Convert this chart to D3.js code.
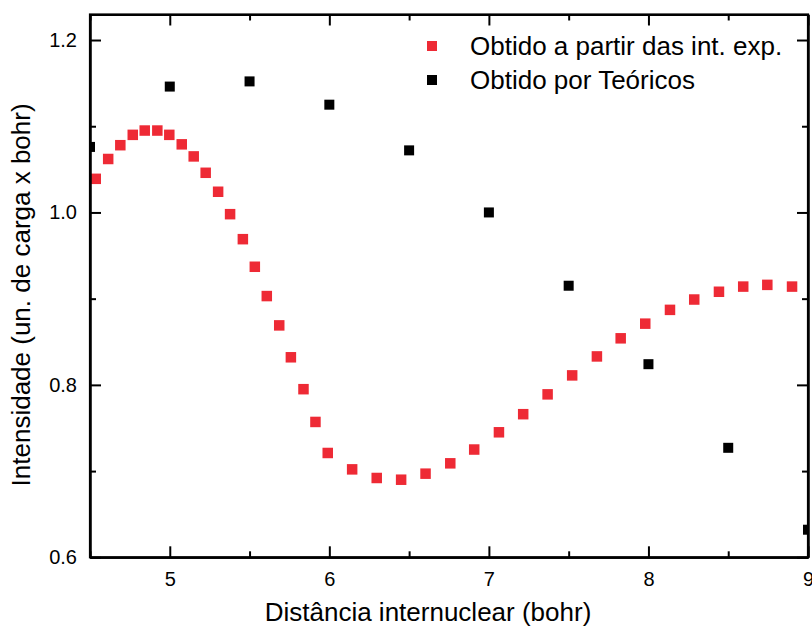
<!DOCTYPE html>
<html>
<head>
<meta charset="utf-8">
<script src="https://cdn.jsdelivr.net/npm/d3@7"></script>
<style>
  body { margin: 0; background: #fff; }
  svg { display: block; font-family: "Liberation Sans", Arial, sans-serif; }
</style>
</head>
<body>
<script>
// data
let expX = [4.536, 4.614, 4.69, 4.768, 4.843, 4.922, 4.997, 5.075, 5.15, 5.225,
            5.303, 5.378, 5.458, 5.533, 5.608, 5.686, 5.759, 5.838, 5.913, 5.99,
            6.143, 6.297, 6.45, 6.603, 6.758, 6.908, 7.063, 7.215, 7.368, 7.522,
            7.677, 7.826, 7.98, 8.135, 8.287, 8.442, 8.594, 8.745, 8.9];
let expY = [1.039, 1.062, 1.078, 1.090, 1.095, 1.095, 1.090, 1.079, 1.065, 1.046,
            1.024, 0.998, 0.969, 0.937, 0.903, 0.869, 0.832, 0.795, 0.757, 0.721,
            0.702, 0.692, 0.690, 0.697, 0.709, 0.725, 0.745, 0.766, 0.789, 0.811,
            0.833, 0.854, 0.871, 0.887, 0.899, 0.908, 0.914, 0.916, 0.914];
let teoX = [4.5, 5, 5.5, 6, 6.5, 7, 7.5, 8, 8.5, 9];
let teoY = [1.076, 1.146, 1.152, 1.125, 1.072, 1.0, 0.915, 0.824, 0.727, 0.632];

let xTicks = [5, 6, 7, 8, 9];
let yTicks = [0.6, 0.8, 1.0, 1.2];
let seriesNames = ["Obtido a partir das int. exp.", "Obtido por Teóricos"];
let seriesColors = ["#ee2a35", "#000000"];

let margin = null, width = null, height = null;
let svg = null;
let x, y = null;

setupCanvasSize();
appendSvg("body");
setupScales();
appendPoints();
appendAxes();
appendTitles();
appendLegend();

function setupCanvasSize() {
  margin = {top: 14.5, left: 90, bottom: 68.7, right: 4};
  width = 812 - margin.left - margin.right;
  height = 626 - margin.top - margin.bottom;
}

function appendSvg(domElement) {
  let root = d3.select(domElement).append("svg")
      .attr("width", 812)
      .attr("height", 626);
  root.append("defs").append("clipPath").attr("id", "plot-clip")
      .append("rect").attr("width", width).attr("height", height);
  svg = root.append("g")
      .attr("transform", `translate(${margin.left}, ${margin.top})`);
}

function setupScales() {
  x = d3.scaleLinear().domain([4.5, 9]).range([0, width]);
  y = d3.scaleLinear().domain([0.6, 1.2296]).range([height, 0]);
}

function appendPoints() {
  let g = svg.append("g").attr("clip-path", "url(#plot-clip)");
  let s = 10.5;
  g.selectAll("rect.exp")
    .data(d3.zip(expX, expY))
    .join("rect")
    .attr("class", "exp")
    .attr("x", d => x(d[0]) - s / 2)
    .attr("y", d => y(d[1]) - s / 2)
    .attr("width", s).attr("height", s)
    .attr("fill", seriesColors[0]);
  g.selectAll("rect.teo")
    .data(d3.zip(teoX, teoY))
    .join("rect")
    .attr("class", "teo")
    .attr("x", d => x(d[0]) - 5)
    .attr("y", d => y(d[1]) - 5)
    .attr("width", 10).attr("height", 10)
    .attr("fill", seriesColors[1]);
}

function styleAxis(g) {
  g.selectAll("path, line").attr("stroke", "#000").attr("stroke-width", 2);
  g.selectAll("text").attr("fill", "#000").style("font-size", "20px")
    .style("font-family", "'Liberation Sans', Arial, sans-serif");
}

function appendAxes() {
  let xMinor = d3.range(4.5, 9.01, 0.5).filter(v => !xTicks.includes(v));
  let yMinor = [0.7, 0.9, 1.1];

  // major ticks with labels (bottom, left)
  svg.append("g")
    .attr("transform", `translate(0, ${height})`)
    .call(d3.axisBottom(x).tickValues(xTicks).tickFormat(d3.format("d"))
          .tickSize(-11).tickSizeOuter(0).tickPadding(15))
    .call(styleAxis);
  svg.append("g")
    .call(d3.axisLeft(y).tickValues(yTicks).tickFormat(d3.format(".1f"))
          .tickSize(-11).tickSizeOuter(0).tickPadding(13))
    .call(styleAxis);

  // mirrored top / right without labels
  svg.append("g")
    .call(d3.axisTop(x).tickValues(xTicks).tickFormat("").tickSize(-11).tickSizeOuter(0))
    .call(styleAxis);
  svg.append("g")
    .attr("transform", `translate(${width}, 0)`)
    .call(d3.axisRight(y).tickValues(yTicks).tickFormat("").tickSize(-11).tickSizeOuter(0))
    .call(styleAxis);

  // minor ticks on all four sides
  svg.append("g").attr("transform", `translate(0, ${height})`)
    .call(d3.axisBottom(x).tickValues(xMinor).tickFormat("").tickSize(-6).tickSizeOuter(0))
    .call(styleAxis);
  svg.append("g")
    .call(d3.axisTop(x).tickValues(xMinor).tickFormat("").tickSize(-6).tickSizeOuter(0))
    .call(styleAxis);
  svg.append("g")
    .call(d3.axisLeft(y).tickValues(yMinor).tickFormat("").tickSize(-6).tickSizeOuter(0))
    .call(styleAxis);
  svg.append("g").attr("transform", `translate(${width}, 0)`)
    .call(d3.axisRight(y).tickValues(yMinor).tickFormat("").tickSize(-6).tickSizeOuter(0))
    .call(styleAxis);

  // frame
  svg.append("rect")
    .attr("width", width).attr("height", height)
    .attr("fill", "none").attr("stroke", "#000").attr("stroke-width", 2.2);
}

function appendTitles() {
  svg.append("text")
    .attr("x", width / 2 - 21)
    .attr("y", height + 64)
    .attr("text-anchor", "middle")
    .style("font-size", "26px")
    .text("Distância internuclear (bohr)");

  svg.append("text")
    .attr("transform", `translate(${-60}, ${height / 2 + 9}) rotate(-90)`)
    .attr("text-anchor", "middle")
    .style("font-size", "26px")
    .text("Intensidade (un. de carga x bohr)");
}

function appendLegend() {
  let lg = svg.append("g").attr("transform", `translate(${432 - margin.left}, ${46 - margin.top})`);
  seriesNames.forEach((name, i) => {
    let row = lg.append("g").attr("transform", `translate(0, ${i * 34})`);
    row.append("rect")
      .attr("x", -5).attr("y", -5).attr("width", 10).attr("height", 10)
      .attr("fill", seriesColors[i]);
    row.append("text")
      .attr("x", 38).attr("y", 9)
      .style("font-size", "26px")
      .text(name);
  });
}
</script>
</body>
</html>
